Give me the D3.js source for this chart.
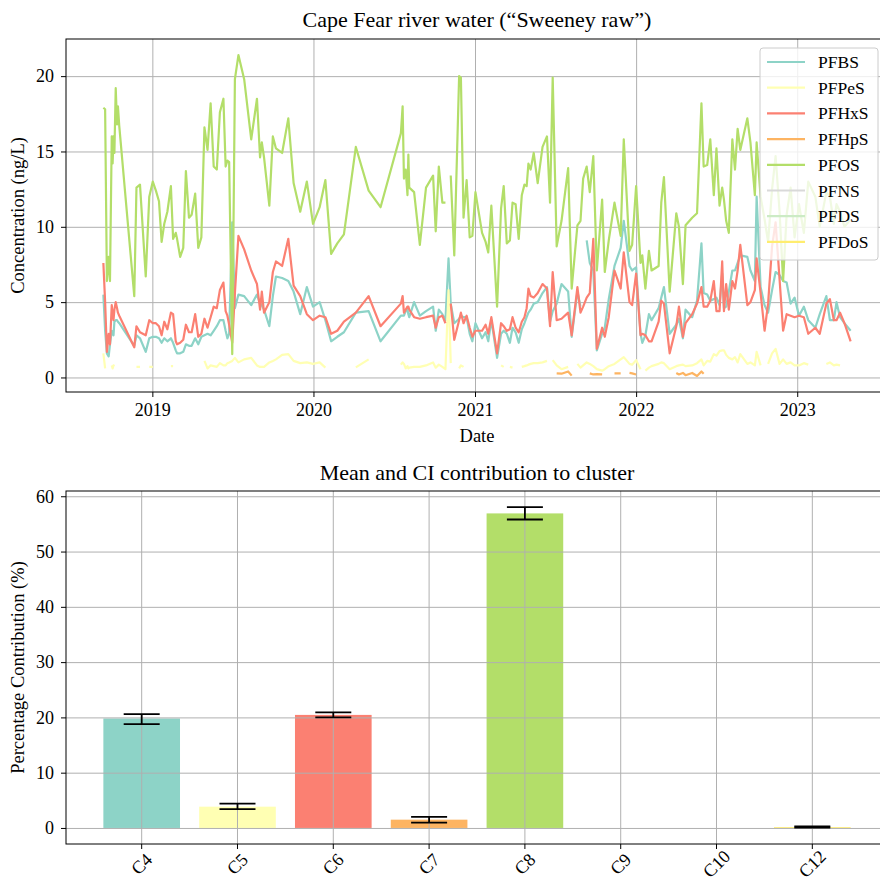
<!DOCTYPE html>
<html>
<head>
<meta charset="utf-8">
<script src="https://cdn.jsdelivr.net/npm/d3@7"></script>
<style>
  body { margin: 0; background: #fff; }
  svg { display: block; font-family: "Liberation Serif", "Times New Roman", serif; }
  .grid line { stroke: #b0b0b0; stroke-width: 1; }
  .grid path { display: none; }
  .axis path { display: none; }
  .axis line { stroke: #000; }
  .axis text { fill: #000; }
</style>
</head>
<body>
<svg id="chart" width="880" height="886"></svg>
<script>
// Sampling dates (shared by all compounds)
const sampleDates = [
  "2018-09-12", "2018-09-16", "2018-09-20", "2018-09-24", "2018-09-27", "2018-10-01", "2018-10-03", "2018-10-05", "2018-10-07", "2018-10-10",
  "2018-10-13", "2018-10-15", "2018-10-18", "2018-11-21", "2018-11-26", "2018-12-04", "2018-12-17", "2018-12-25", "2019-01-02", "2019-01-09",
  "2019-01-16", "2019-01-22", "2019-01-28", "2019-02-04", "2019-02-12", "2019-02-17", "2019-02-23", "2019-02-26", "2019-03-05", "2019-03-12",
  "2019-03-18", "2019-03-25", "2019-03-31", "2019-04-08", "2019-04-15", "2019-04-22", "2019-04-29", "2019-05-06", "2019-05-13", "2019-05-20",
  "2019-05-27", "2019-06-03", "2019-06-11", "2019-06-16", "2019-06-20", "2019-06-24", "2019-07-01", "2019-07-07", "2019-07-15", "2019-07-28",
  "2019-08-13", "2019-08-26", "2019-09-02", "2019-09-06", "2019-09-11", "2019-09-23", "2019-10-01", "2019-10-08", "2019-10-22", "2019-11-05",
  "2019-11-17", "2019-12-02", "2019-12-17", "2019-12-31", "2020-01-15", "2020-01-28", "2020-02-10", "2020-02-24", "2020-03-10", "2020-04-06",
  "2020-05-05", "2020-06-01", "2020-07-17", "2020-07-21", "2020-07-24", "2020-07-28", "2020-08-01", "2020-08-03", "2020-08-05", "2020-08-16",
  "2020-08-29", "2020-09-12", "2020-09-28", "2020-10-04", "2020-10-11", "2020-10-19", "2020-10-26", "2020-11-02", "2020-11-07", "2020-11-15",
  "2020-11-26", "2020-11-30", "2020-12-06", "2020-12-13", "2020-12-20", "2020-12-26", "2021-01-02", "2021-01-17", "2021-01-25", "2021-01-31",
  "2021-02-07", "2021-02-20", "2021-03-01", "2021-03-07", "2021-03-14", "2021-03-21", "2021-03-27", "2021-04-03", "2021-04-10", "2021-04-17",
  "2021-04-23", "2021-04-28", "2021-05-02", "2021-05-07", "2021-05-14", "2021-05-23", "2021-06-03", "2021-06-13", "2021-06-20", "2021-06-26",
  "2021-07-05", "2021-07-16", "2021-07-31", "2021-08-08", "2021-08-21", "2021-08-28", "2021-09-03", "2021-09-11", "2021-09-18", "2021-09-26",
  "2021-10-04", "2021-10-16", "2021-10-22", "2021-10-31", "2021-11-13", "2021-11-27", "2021-12-04", "2021-12-17", "2021-12-23", "2022-01-01",
  "2022-01-11", "2022-01-15", "2022-01-22", "2022-01-30", "2022-02-05", "2022-02-21", "2022-02-27", "2022-03-05", "2022-03-18", "2022-04-02",
  "2022-04-08", "2022-04-17", "2022-04-23", "2022-05-08", "2022-05-19", "2022-05-29", "2022-06-03", "2022-06-11", "2022-06-18", "2022-06-26",
  "2022-07-02", "2022-07-09", "2022-07-15", "2022-07-19", "2022-07-24", "2022-07-30", "2022-08-07", "2022-08-13", "2022-08-19", "2022-08-25",
  "2022-09-10", "2022-09-17", "2022-09-27", "2022-10-01", "2022-10-10", "2022-10-19", "2022-10-27", "2022-11-05", "2022-11-13", "2022-11-22",
  "2022-11-30", "2022-12-08", "2022-12-17", "2022-12-26", "2023-01-05", "2023-01-16", "2023-01-26", "2023-02-11", "2023-02-21", "2023-03-08",
  "2023-03-16", "2023-03-25", "2023-03-31", "2023-04-08", "2023-04-18", "2023-05-02"
];

// Concentrations in ng/L, null = not detected / missing
const pfbs = [
  5.5, 3.1, 1.6, 1.4, 2.2, 3.1, 2.9, 2.8, 3.7, 3.8,
  3.8, 3.7, 3.6, 2.1, 2.8, 2.6, 1.7, 2.6, 2.7, 2.7,
  2.6, 2.3, 2.6, 2.4, 2.6, 2.3, 1.8, 1.6, 1.6, 1.7,
  2.2, 2.1, 2.1, 2.6, 2.2, 2.7, 2.8, 2.9, 2.8, 3.1,
  3.4, 3.8, 3.8, 3.1, 2.6, 2.9, 10.3, 4.6, 5.5, 5.4,
  4.8, 5.5, 4.9, 4.8, 4.5, 3.4, 5.4, 6.7, 6.6, 6.4,
  5.7, 4.2, 6.0, 4.7, 5.0, 3.8, 2.4, 2.7, 3.0, 4.3,
  4.4, 2.4, 4.1, 4.1, 4.1, 4.4, 4.5, 4.2, 4.0, 5.0,
  4.1, 4.4, 4.7, 3.1, 4.5, 4.2, 3.8, 7.9, 4.9, 3.6,
  3.9, 4.1, 4.0, 4.0, 2.9, 2.4, 3.6, 2.6, 3.0, 2.4,
  3.8, 1.3, 2.9, 3.1, 2.9, 2.3, 3.3, 3.0, 2.3, 3.2,
  3.6, 4.0, 4.3, 4.5, 4.9, 5.0, 5.6, 6.0, 3.7, 4.4,
  4.9, 6.2, 5.7, 2.7, 5.7, 4.7, null, 9.1, 7.6, 7.1,
  1.8, 2.9, 3.3, 5.2, 7.4, 8.6, 10.4, 7.4, 7.1, 7.3,
  2.9, 2.3, 2.8, 4.2, 3.8, 4.6, 5.3, 6.0, 2.9, 3.5,
  3.9, 2.6, 4.5, 4.0, 5.1, 8.9, 5.6, 5.5, 5.1, 5.2,
  5.3, 4.8, 6.9, 4.6, 4.7, 5.7, 7.1, 7.1, 7.6, 8.1,
  8.0, 7.1, 6.4, 12.0, 6.0, 4.8, 4.3, 5.8, 7.0, 6.8,
  6.4, 6.3, 4.9, 5.3, 4.1, 4.7, 3.8, 3.3, 4.2, 5.4,
  3.8, 3.8, 5.0, 4.0, 3.6, 3.1
];
const pfpes = [
  1.6, 0.6, null, null, null, 0.8, 0.6, 0.8, 0.75, null,
  null, null, null, null, 0.7, 0.7, null, 0.7, 0.7, null,
  null, null, null, null, 0.75, 0.75, null, null, null, null,
  null, null, null, null, null, null, 1.1, 0.6, 0.8, 0.75,
  0.7, 0.95, 0.8, 0.8, 0.95, 1.0, 1.1, 1.3, 1.0, 1.2,
  1.3, 0.8, 0.7, 0.7, 0.7, 1.0, 1.1, 1.2, 1.5, 1.55,
  1.1, 0.95, 1.0, 0.9, 1.0, 0.65, null, null, null, 0.67,
  1.2, null, 0.85, 1.0, 0.9, 0.6, 0.75, 0.6, 0.65, 0.7,
  0.7, 0.8, 1.0, 0.65, 0.85, 0.7, 0.55, 5.8, 0.95, null,
  0.6, 0.8, 0.7, null, null, null, null, null, null, null,
  null, null, 0.8, 0.7, null, 0.7, 0.65, null, null, 0.7,
  0.75, 0.8, 0.85, 0.9, 0.95, 0.95, 1.0, 1.1, null, 1.15,
  0.8, 0.55, 0.7, null, 0.9, 0.65, 0.8, 1.0, 0.9, 0.75,
  0.55, 0.45, 0.55, 0.75, 0.9, 1.2, 1.35, 0.9, 0.85, 1.15,
  0.55, null, 0.45, 0.65, 0.75, 0.9, 1.0, 0.95, 0.55, 0.75,
  0.8, 0.85, 0.75, 0.8, 0.95, 1.2, 0.8, 1.1, 1.05, 1.55,
  1.45, 1.75, 1.8, 1.8, 1.5, 1.3, 1.2, 1.35, 1.0, 1.55,
  0.9, 1.0, 0.8, 1.7, 0.8, null, 0.9, 1.6, 1.9, 0.9,
  1.2, 0.9, 1.0, 0.8, 0.8, 0.95, 0.85, null, null, 0.9,
  1.0, 0.8, 0.85, 0.8, null, null
];
const pfhxs = [
  7.6, 5.0, 1.7, 2.9, 2.2, 4.8, 4.2, 3.8, 4.5, 5.0,
  4.6, 4.3, 4.1, 2.0, 3.4, 3.0, 2.8, 3.8, 3.6, 3.6,
  3.4, 2.8, 3.7, 3.2, 4.3, 4.2, 2.4, 2.2, 2.3, 2.5,
  3.5, 3.0, 3.0, 4.2, 2.7, 2.9, 3.9, 3.3, 4.0, 4.7,
  4.6, 5.8, 6.3, 4.4, 4.1, 3.5, 2.3, 5.6, 9.4, 8.5,
  7.1, 6.2, 4.5, 5.7, 4.3, 5.0, 7.0, 7.7, 7.4, 9.2,
  6.1, 5.4, 4.2, 3.8, 4.1, 4.0, 2.9, 3.1, 3.7, 4.3,
  5.4, 3.4, 4.9, 5.4, 4.3, 4.5, 4.7, 4.7, 4.5, 4.0,
  3.9, 4.0, 4.1, 3.3, 4.0, 4.1, 3.6, null, 4.9, 2.5,
  3.8, 4.3, 3.6, 4.1, 3.3, 2.7, 3.1, 3.1, 3.5, 2.9,
  4.0, 1.6, 3.6, 3.4, 3.1, 3.2, 4.0, 3.3, 3.0, 3.7,
  4.0, 4.6, 5.9, 5.4, 5.3, 5.6, 6.2, 5.9, 3.4, 7.0,
  3.8, 3.9, 4.3, 2.8, 6.0, 4.3, 4.7, 5.3, 5.6, 9.2,
  1.9, 3.3, 2.7, 4.0, 7.1, 5.9, 8.3, 5.0, 4.8, 6.9,
  2.8, 2.9, 2.8, 2.4, 2.4, 3.7, 5.1, 4.9, 1.6, 3.4,
  4.7, 2.7, 3.6, 4.2, 4.9, 6.0, 4.7, 4.7, 5.1, 6.4,
  4.4, 4.4, 7.7, 4.4, 6.2, 4.5, 6.4, 5.9, 7.1, 8.8,
  4.8, 5.0, 5.8, 7.9, 5.6, 3.1, 4.9, 8.7, 10.3, 6.5,
  3.1, 4.2, 4.1, 4.0, 4.1, 4.0, 2.9, 3.3, 2.9, 4.9,
  5.2, 3.8, 3.8, 4.3, 3.6, 2.4
];
const pfhps = [
  null, null, null, null, null, null, null, null, null, null, null, null, null, null, null, null, null, null, null, null,
  null, null, null, null, null, null, null, null, null, null, null, null, null, null, null, null, null, null, null, null,
  null, null, null, null, null, null, null, null, null, null, null, null, null, null, null, null, null, null, null, null,
  null, null, null, null, null, null, null, null, null, null, null, null, null, null, null, null, null, null, null, null,
  null, null, null, null, null, null, null, null, null, null, null, null, null, null, null, null, null, null, null, null,
  null, null, null, null, null, null, null, null, null, null, null, null, null, null, null, null, null, null, null, null,
  0.27, 0.25, 0.4, 0.12, null, null, null, null, 0.27, 0.2,
  0.22, 0.2, null, null, 0.27, 0.27, null, 0.3, 0.27, 0.2,
  null, null, null, null, null, null, null, null, null, 0.3,
  0.2, 0.3, 0.15, 0.3, 0.1, 0.4, 0.25, null, null, null,
  null, null, null, null, null, null, null, null, null, null,
  null, null, null, null, null, null, null, null, null, null,
  null, null, null, null, null, null, null, null, null, null,
  null, null, null, null, null, null
];
const pfos = [
  17.9, 17.8, 6.4, 8.0, 6.4, 16.0, 14.2, 16.0, 14.9, 19.2,
  16.8, 18.0, 16.7, 5.4, 12.6, 12.8, 6.7, 12.0, 13.0, 12.4,
  11.7, 9.0, 10.2, 11.0, 12.7, 9.2, 9.6, 9.2, 8.0, 8.6,
  13.7, 10.6, 10.8, 12.2, 8.6, 9.3, 16.6, 15.1, 18.2, 14.0,
  13.8, 17.6, 18.5, 14.0, 14.4, 14.3, 1.55, 19.8, 21.4, 19.8,
  15.8, 18.5, 14.6, 15.6, 14.6, 11.4, 16.0, 15.2, 14.9, 17.2,
  12.9, 11.0, 13.0, 10.2, 11.3, 13.1, 8.2, 8.9, 9.5, 15.3,
  12.4, 11.3, 16.2, 18.0, 13.2, 13.8, 12.1, 14.8, 12.6, 12.3,
  8.8, 12.6, 13.4, 9.7, 14.0, 11.6, 11.6, null, 13.4, 8.1,
  20.0, 19.9, 10.6, 13.1, 9.3, 9.4, 12.3, 9.6, 9.0, 8.3,
  11.4, 4.7, 11.2, 12.7, 8.9, 9.1, 11.6, 11.5, 9.2, 12.1,
  12.8, 12.7, 14.2, 13.8, 14.9, 12.9, 15.3, 16.0, 11.6, 19.9,
  8.7, 10.4, 13.9, 5.9, 10.1, 10.4, 13.2, 14.0, 12.3, 14.7,
  7.1, 11.8, 7.0, 9.1, 11.6, 9.4, 15.8, 8.4, 8.8, 12.7,
  7.6, 8.1, 5.9, 8.4, 7.1, 7.4, 11.6, 13.3, 5.7, 10.9,
  10.0, 6.2, 10.1, 10.6, 10.9, 18.2, 14.0, 14.1, 15.8, 12.1,
  15.2, 11.4, 12.6, 11.8, 10.4, 9.6, 15.8, 13.8, 16.5, 15.1,
  17.2, 15.6, 12.1, 15.6, 12.0, 10.5, 9.0, 12.5, 14.7, 11.0,
  6.4, 10.8, 12.6, 9.3, 11.5, 9.6, 13.0, 12.0, 10.0, 12.3,
  12.0, 10.2, 11.5, 11.0, 10.0, 10.5
];
// never above detection limit at this site
const pfns = [];
const pfds = [];
const pfdos = [];

const seriesNames = ["PFBS", "PFPeS", "PFHxS", "PFHpS", "PFOS", "PFNS", "PFDS", "PFDoS"];
const seriesValues = [pfbs, pfpes, pfhxs, pfhps, pfos, pfns, pfds, pfdos];
const seriesColors = ["#8dd3c7", "#ffffb3", "#fb8072", "#fdb462", "#b3de69", "#d9d9d9", "#ccebc5", "#ffed6f"];

// Bottom panel: mean contribution and 95% CI per chain length
const clusterLabels = ["C4", "C5", "C6", "C7", "C8", "C9", "C10", "C12"];
const meanContribution = [19.8, 3.85, 20.45, 1.5, 56.9, 0, 0, 0.15];
const ciLow = [18.8, 3.4, 20.0, 0.95, 55.8, null, null, 0.05];
const ciHigh = [20.6, 4.4, 20.9, 2.0, 58.05, null, null, 0.3];

const yTicksTop = [0, 5, 10, 15, 20];
const yTicksBottom = [0, 10, 20, 30, 40, 50, 60];

const svg = d3.select("#chart");
const parseDate = d3.timeParse("%Y-%m-%d");
const TICK_FS = 18, LABEL_FS = 18.5, TITLE_FS = 22;

// matplotlib style 5% margins
function padExtent(ext) {
    const span = ext[1] - ext[0];
    return [ext[0] - 0.05 * span, ext[1] + 0.05 * span];
}

function drawFrame(box) {
    svg.append("rect")
        .attr("x", box.left).attr("y", box.top)
        .attr("width", box.right - box.left).attr("height", box.bottom - box.top)
        .attr("fill", "none").attr("stroke", "#000").attr("stroke-width", 1);
}

function drawTimeSeries() {
    const box = { left: 66, right: 888, top: 39, bottom: 392 };
    const dates = sampleDates.map(parseDate);
    const allVals = seriesValues.flat().filter(v => v != null);

    const tExt = padExtent(d3.extent(dates).map(d => +d));
    const x = d3.scaleTime().domain(tExt.map(t => new Date(t))).range([box.left, box.right]);
    const y = d3.scaleLinear().domain(padExtent(d3.extent(allVals))).range([box.bottom, box.top]);
    const years = d3.timeYear.range(new Date(2019, 0, 1), new Date(2024, 0, 1));

    // grid
    svg.append("g").attr("class", "grid")
        .attr("transform", `translate(0,${box.bottom})`)
        .call(d3.axisBottom(x).tickValues(years).tickSize(-(box.bottom - box.top)).tickFormat(""));
    svg.append("g").attr("class", "grid")
        .attr("transform", `translate(${box.left},0)`)
        .call(d3.axisLeft(y).tickValues(yTicksTop).tickSize(-(box.right - box.left)).tickFormat(""));

    svg.append("clipPath").attr("id", "clipTop")
        .append("rect").attr("x", box.left).attr("y", box.top)
        .attr("width", box.right - box.left).attr("height", box.bottom - box.top);

    const line = d3.line()
        .defined(d => d.v != null)
        .x(d => x(d.date))
        .y(d => y(d.v));

    const plot = svg.append("g").attr("clip-path", "url(#clipTop)");
    seriesValues.forEach((vals, i) => {
        const pts = dates.map((date, j) => ({ date, v: vals[j] == null ? null : vals[j] }));
        plot.append("path")
            .datum(pts)
            .attr("fill", "none")
            .attr("stroke", seriesColors[i])
            .attr("stroke-width", 2.2)
            .attr("stroke-linejoin", "round")
            .attr("d", line);
    });

    drawFrame(box);

    svg.append("g").attr("class", "axis")
        .attr("transform", `translate(0,${box.bottom})`)
        .style("font-size", TICK_FS + "px").style("font-family", "Liberation Serif")
        .call(d3.axisBottom(x).tickValues(years).tickFormat(d3.timeFormat("%Y")).tickSize(5).tickPadding(6));
    svg.append("g").attr("class", "axis")
        .attr("transform", `translate(${box.left},0)`)
        .style("font-size", TICK_FS + "px").style("font-family", "Liberation Serif")
        .call(d3.axisLeft(y).tickValues(yTicksTop).tickSize(5).tickPadding(7));

    svg.append("text")
        .attr("x", (box.left + box.right) / 2).attr("y", 27)
        .attr("text-anchor", "middle").attr("font-size", TITLE_FS)
        .text("Cape Fear river water (\u201CSweeney raw\u201D)");
    svg.append("text")
        .attr("x", (box.left + box.right) / 2).attr("y", 442)
        .attr("text-anchor", "middle").attr("font-size", LABEL_FS)
        .text("Date");
    svg.append("text")
        .attr("transform", `translate(24,${(box.top + box.bottom) / 2}) rotate(-90)`)
        .attr("text-anchor", "middle").attr("font-size", LABEL_FS)
        .text("Concentration (ng/L)");

    // legend
    const lg = svg.append("g");
    lg.append("rect")
        .attr("x", 760).attr("y", 48).attr("width", 118).attr("height", 212)
        .attr("rx", 3)
        .attr("fill", "#fff").attr("fill-opacity", 0.8)
        .attr("stroke", "#cccccc");
    seriesNames.forEach((name, i) => {
        const cy = 62 + i * 25.7;
        lg.append("line")
            .attr("x1", 767).attr("x2", 805).attr("y1", cy).attr("y2", cy)
            .attr("stroke", seriesColors[i]).attr("stroke-width", 2.2);
        lg.append("text")
            .attr("x", 818).attr("y", cy + 6)
            .attr("font-size", 17.5)
            .text(name);
    });
}

function drawBars() {
    const box = { left: 66, right: 888, top: 491, bottom: 844 };
    const x = d3.scaleBand().domain(clusterLabels).range([box.left, box.right])
        .paddingInner(0.2).paddingOuter(0.39);
    const maxVal = d3.max([...meanContribution, ...ciHigh.filter(v => v != null)]);
    const y = d3.scaleLinear().domain(padExtent([0, maxVal])).range([box.bottom, box.top]);

    svg.selectAll(".bar")
        .data(clusterLabels)
        .enter().append("rect")
        .attr("class", "bar")
        .attr("x", d => x(d))
        .attr("width", x.bandwidth())
        .attr("y", (d, i) => y(meanContribution[i]))
        .attr("height", (d, i) => y(0) - y(meanContribution[i]))
        .attr("fill", (d, i) => seriesColors[i]);

    svg.append("g").attr("class", "grid")
        .attr("transform", `translate(0,${box.bottom})`)
        .call(d3.axisBottom(x).tickSize(-(box.bottom - box.top)).tickFormat(""));
    svg.append("g").attr("class", "grid")
        .attr("transform", `translate(${box.left},0)`)
        .call(d3.axisLeft(y).tickValues(yTicksBottom).tickSize(-(box.right - box.left)).tickFormat(""));

    // error bars
    const cap = 18;
    clusterLabels.forEach((c, i) => {
        if (ciLow[i] == null) return;
        const cx = x(c) + x.bandwidth() / 2;
        const g = svg.append("g").attr("stroke", "#000").attr("stroke-width", 1.8);
        g.append("line").attr("x1", cx).attr("x2", cx).attr("y1", y(ciLow[i])).attr("y2", y(ciHigh[i]));
        g.append("line").attr("x1", cx - cap).attr("x2", cx + cap).attr("y1", y(ciLow[i])).attr("y2", y(ciLow[i]));
        g.append("line").attr("x1", cx - cap).attr("x2", cx + cap).attr("y1", y(ciHigh[i])).attr("y2", y(ciHigh[i]));
    });

    drawFrame(box);

    const xAxis = svg.append("g").attr("class", "axis")
        .attr("transform", `translate(0,${box.bottom})`)
        .style("font-size", TICK_FS + "px").style("font-family", "Liberation Serif")
        .call(d3.axisBottom(x).tickSize(5));
    xAxis.selectAll("text")
        .attr("y", 0).attr("dy", null)
        .attr("text-anchor", "middle")
        .attr("dominant-baseline", "central")
        .attr("transform", "translate(0,20) rotate(-45)");
    svg.append("g").attr("class", "axis")
        .attr("transform", `translate(${box.left},0)`)
        .style("font-size", TICK_FS + "px").style("font-family", "Liberation Serif")
        .call(d3.axisLeft(y).tickValues(yTicksBottom).tickSize(5).tickPadding(7));

    svg.append("text")
        .attr("x", (box.left + box.right) / 2).attr("y", 480)
        .attr("text-anchor", "middle").attr("font-size", TITLE_FS)
        .text("Mean and CI contribution to cluster");
    svg.append("text")
        .attr("transform", `translate(24,${(box.top + box.bottom) / 2}) rotate(-90)`)
        .attr("text-anchor", "middle").attr("font-size", LABEL_FS)
        .text("Percentage Contribution (%)");
}

drawTimeSeries();
drawBars();
</script>
</body>
</html>
